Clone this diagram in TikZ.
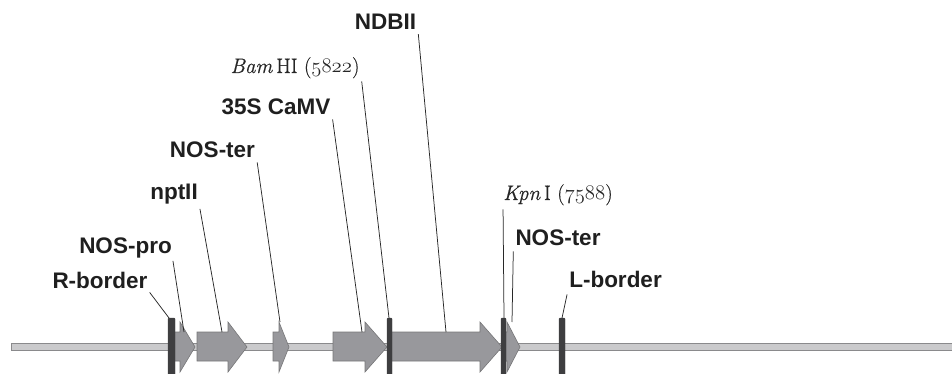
\documentclass[tikz,border=0pt]{standalone}
\usepackage{fontspec}
\setsansfont{Liberation Sans}
\newfontfamily\serx{Latin Modern Roman}[FakeBold=0.5]
\definecolor{genefill}{RGB}{152,152,156}
\definecolor{geneline}{RGB}{118,118,120}
\definecolor{barcol}{RGB}{62,62,64}
\definecolor{bbfill}{RGB}{202,202,204}
\definecolor{bbline}{RGB}{138,138,140}
\definecolor{leadcol}{RGB}{40,40,40}
\newcommand\genearrow[3]{%
  \path[gene] (#1,332) -- (#2,332) -- (#2,322) -- (#3,347) -- (#2,372) -- (#2,361) -- (#1,361) -- cycle;}
\newcommand\osnum[1]{{\usefont{OML}{cmm}{m}{it}#1}}
\begin{document}
\begin{tikzpicture}[x=1pt,y=-1pt,
  gene/.style={fill=genefill,draw=geneline,line width=0.6pt,line join=miter},
  sitebar/.style={fill=barcol,draw=barcol,line width=0.4pt,rounded corners=1pt},
  lbl/.style={font=\sffamily\bfseries\fontsize{22.5}{26}\selectfont,anchor=base,inner sep=3pt,text=black!88},
  slbl/.style={font=\serx\fontsize{21}{24}\selectfont,anchor=base,inner sep=3pt,text=black!85},
  leader/.style={draw=leadcol,line width=0.75pt}]
\useasboundingbox (0,0) rectangle (952,374);
% backbone
\path[fill=bbfill,draw=bbline,line width=0.7pt] (11,343) rectangle (960,350);
% gene arrows
\genearrow{174}{180}{195}
\genearrow{197}{228}{247}
\genearrow{273}{279}{289}
\genearrow{333}{365}{387}
\genearrow{391}{480}{502}
\genearrow{505}{507}{520}
% site bars
\path[sitebar] (168,318) rectangle (175,380);
\path[sitebar] (387,318) rectangle (392,380);
\path[sitebar] (501,318) rectangle (506,380);
\path[sitebar] (559,318) rectangle (565,380);
% leader end points
\coordinate (rbE) at (169,318);
\coordinate (npE) at (184,332);
\coordinate (ntE) at (222,332);
\coordinate (nt1E) at (280,322);
\coordinate (cmE) at (362,332);
\coordinate (bhE) at (389,318);
\coordinate (ndE) at (446,332);
\coordinate (kpE) at (504,318);
\coordinate (nt2E) at (512,322);
\coordinate (lbE) at (562,318);
% labels
\node[lbl] (nd) at (385.5,30) {NDBII};
\node[slbl] (bh) at (295,73) {\textit{Bam}\,HI (\osnum{5822})};
\node[lbl] (cm) at (276,115) {35S CaMV};
\node[lbl] (nt1) at (212.5,158) {NOS-ter};
\node[lbl] (nt) at (174,200) {nptII};
\node[lbl] (np) at (125.5,253) {NOS-pro};
\node[lbl] (rb) at (100,288) {R-border};
\node[slbl] (kp) at (558,200) {\textit{Kpn}\,I (\osnum{7588})};
\node[lbl] (nt2) at (558,245) {NOS-ter};
\node[lbl] (lb) at (615.5,287) {L-border};
% leaders
\draw[leader] ([shift={(-1,1)}]nd.south east) -- (ndE);
\draw[leader] ([shift={(-1,0)}]bh.south east) -- (bhE);
\draw[leader] ([shift={(-1,1)}]cm.south east) -- (cmE);
\draw[leader] ([shift={(-1,1)}]nt1.south east) -- (nt1E);
\draw[leader] ([shift={(-1,1)}]nt.south east) -- (ntE);
\draw[leader] ([shift={(-2,0)}]np.south east) -- (npE);
\draw[leader] ([shift={(-1,1)}]rb.south east) -- (rbE);
\draw[leader] ([shift={(3,1)}]kp.south west) -- (kpE);
\draw[leader] ([shift={(1,3)}]nt2.south west) -- (nt2E);
\draw[leader] ([shift={(1,4)}]lb.south west) -- (lbE);
\end{tikzpicture}
\end{document}
